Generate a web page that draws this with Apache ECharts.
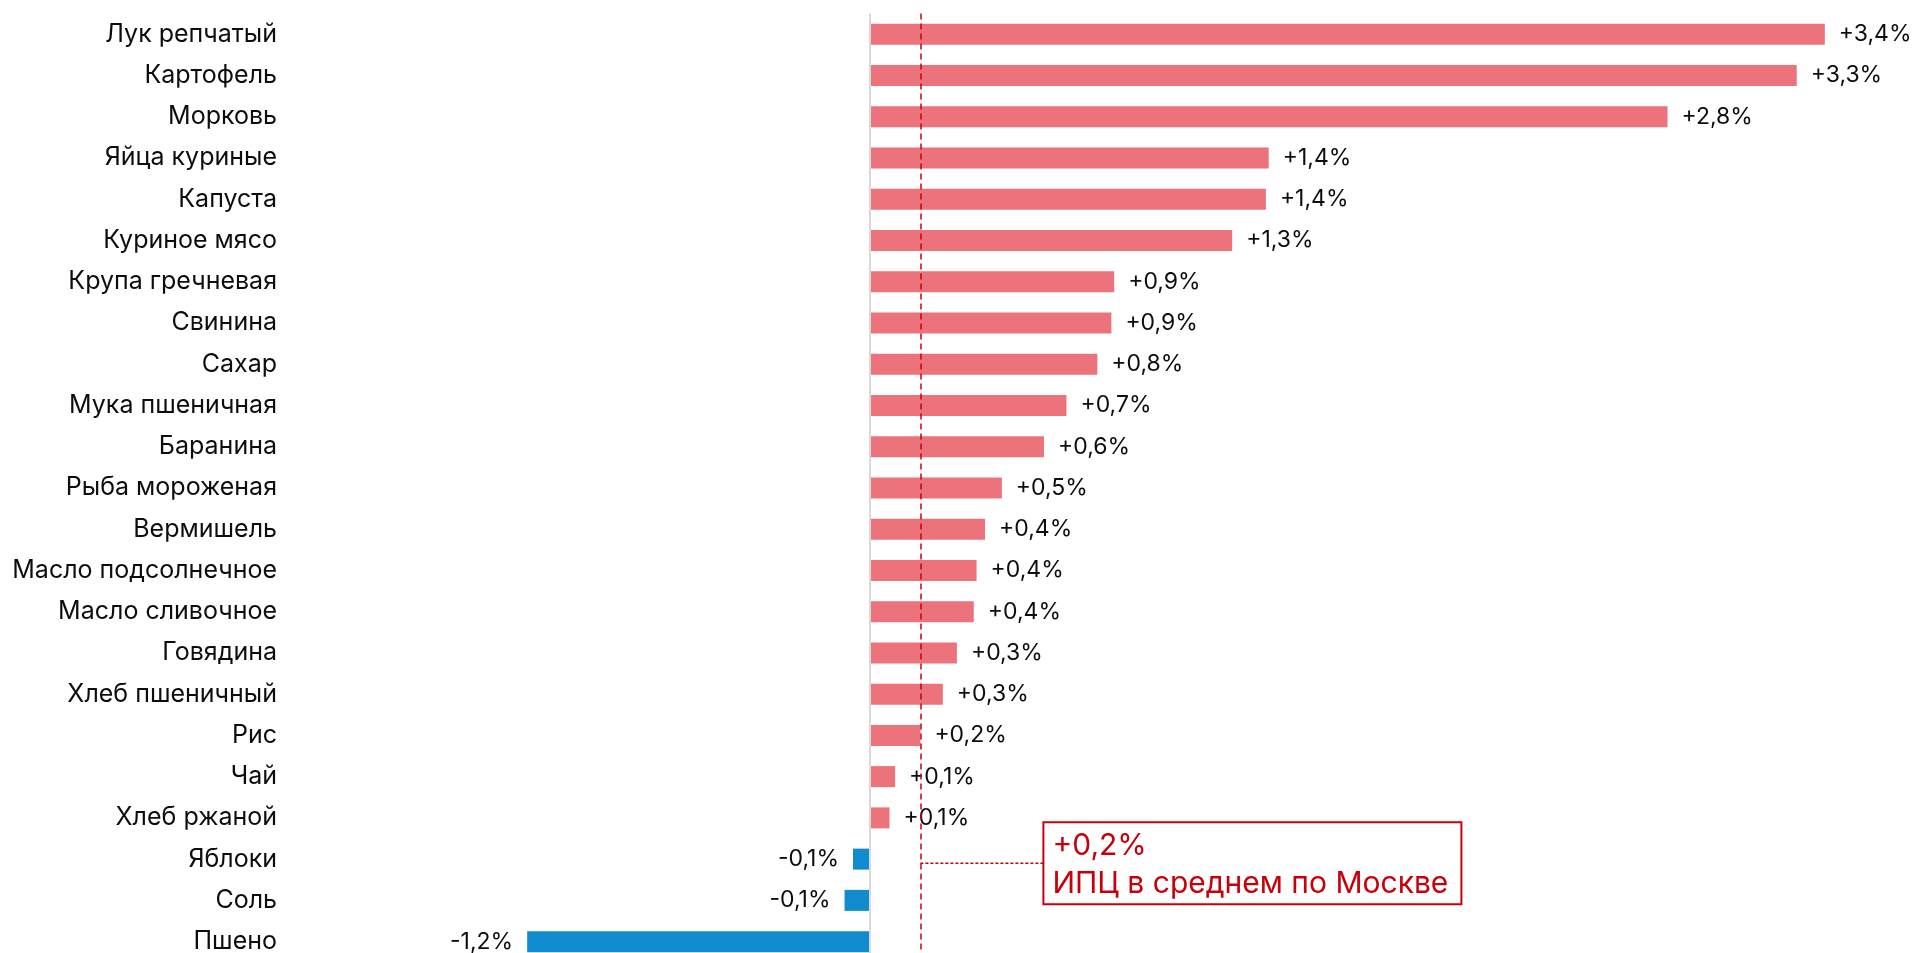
<!DOCTYPE html>
<html lang="ru">
<head>
    <meta charset="UTF-8">
    <title>Цены на продукты</title>
    <script src="https://cdn.jsdelivr.net/npm/echarts@6/dist/echarts.min.js"></script>
    <style>
        html, body { margin: 0; padding: 0; background: #fff; overflow: hidden; }
        #main { width: 1914px; height: 966px; }
    </style>
</head>
<body>
<div id="main"></div>
<script type="text/javascript">
    // категории сверху вниз
    var categories = ['Лук репчатый', 'Картофель', 'Морковь', 'Яйца куриные', 'Капуста', 'Куриное мясо',
        'Крупа гречневая', 'Свинина', 'Сахар', 'Мука пшеничная', 'Баранина', 'Рыба мороженая',
        'Вермишель', 'Масло подсолнечное', 'Масло сливочное', 'Говядина', 'Хлеб пшеничный',
        'Рис', 'Чай', 'Хлеб ржаной', 'Яблоки', 'Соль', 'Пшено'];
    // изменение цены, %
    var values = [3.40, 3.30, 2.84, 1.42, 1.41, 1.29,
        0.87, 0.86, 0.81, 0.70, 0.62, 0.47,
        0.41, 0.38, 0.37, 0.31, 0.26,
        0.18, 0.09, 0.07, -0.06, -0.09, -1.22];
    // ИПЦ в среднем по Москве
    var ipcValue = 0.18;
    var ipcText = 'ИПЦ в среднем по Москве';
    var ipcAnchor = 'Яблоки';

    var FONT = 'Inter';
    var RED = '#C8000A';

    function fmt(v) {
        return (v > 0 ? '+' : '') + v.toFixed(1).replace('.', ',') + '%';
    }

    var barData = values.map(function (v) {
        return {
            value: v,
            itemStyle: { color: v >= 0 ? '#EC727B' : '#108BCD' },
            label: { position: v >= 0 ? 'right' : 'left' }
        };
    });

    var myChart = echarts.init(document.getElementById('main'), null, { renderer: 'canvas' });

    var option = {
        animation: false,
        backgroundColor: '#ffffff',
        grid: { left: 280, top: 13.5, width: 1601, height: 948.75 },
        xAxis: {
            type: 'value',
            min: -2.1,
            max: 3.6,
            axisLine: { show: false },
            axisTick: { show: false },
            axisLabel: { show: false },
            splitLine: { show: false }
        },
        yAxis: {
            type: 'category',
            data: categories,
            inverse: true,
            axisLine: { show: false },
            axisTick: { show: false },
            axisLabel: {
                margin: 3,
                color: '#0d0d0d',
                fontFamily: FONT,
                fontSize: 25
            }
        },
        series: [{
            type: 'bar',
            data: barData,
            barWidth: 21,
            label: {
                show: true,
                distance: 14,
                color: '#0d0d0d',
                fontFamily: FONT,
                fontSize: 23,
                formatter: function (p) { return fmt(p.value); }
            },
            markLine: {
                silent: true,
                symbol: 'none',
                label: { show: false },
                data: [
                    { xAxis: 0, lineStyle: { color: '#d9d9d9', width: 2, type: 'solid' } },
                    { xAxis: ipcValue, lineStyle: { color: RED, width: 1.5, type: [6, 4] } }
                ]
            }
        }]
    };

    myChart.setOption(option);

    // выноска с ИПЦ
    var x0 = myChart.convertToPixel({ xAxisIndex: 0 }, ipcValue);
    var y0 = myChart.convertToPixel({ yAxisIndex: 0 }, ipcAnchor);
    var boxX = x0 + 123;
    myChart.setOption({
        graphic: [
            {
                type: 'line',
                silent: true,
                shape: { x1: x0, y1: y0 + 4, x2: boxX, y2: y0 + 4 },
                style: { stroke: RED, lineWidth: 1.5, lineDash: [3, 2] }
            },
            {
                type: 'rect',
                silent: true,
                shape: { x: boxX, y: y0 - 37, width: 418, height: 82 },
                style: { fill: '#ffffff', stroke: RED, lineWidth: 2 }
            },
            {
                type: 'text',
                silent: true,
                x: boxX + 9,
                y: y0 - 32,
                style: {
                    text: fmt(ipcValue) + '\n' + ipcText,
                    fill: RED,
                    font: '30px ' + FONT,
                    lineHeight: 38,
                    verticalAlign: 'top'
                }
            }
        ]
    });
</script>
</body>
</html>
